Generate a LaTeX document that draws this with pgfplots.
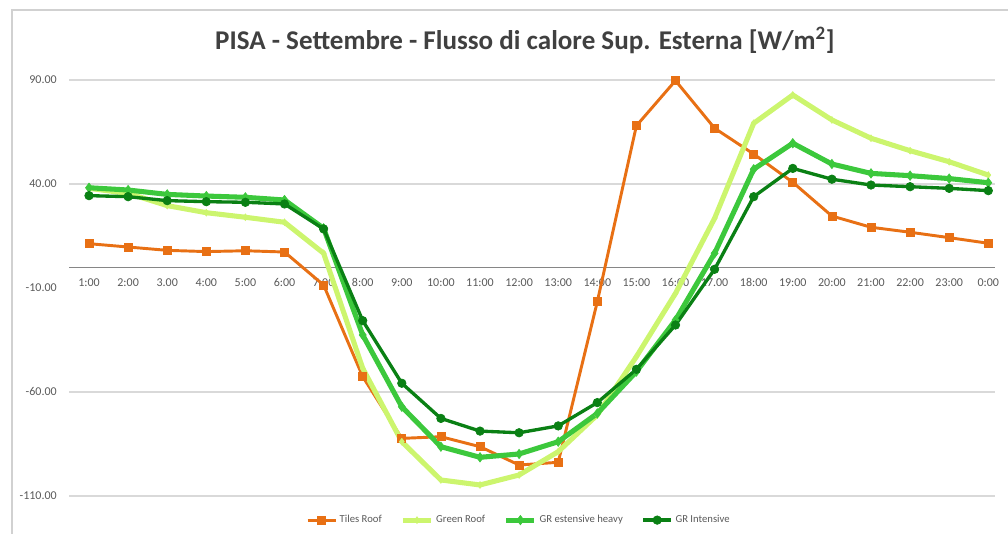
\documentclass[border=0pt]{standalone}
\usepackage{pgfplots}
\pgfplotsset{compat=1.18}
\usepackage{pgfplotstable}
\usepackage{fontspec}
\setmainfont{Carlito}
\definecolor{cTiles}{RGB}{232,112,20}
\definecolor{cGreen}{RGB}{204,245,110}
\definecolor{cHeavy}{RGB}{60,200,60}
\definecolor{cInt}{RGB}{10,128,20}
\definecolor{cText}{RGB}{89,89,89}
\definecolor{cTitle}{RGB}{64,64,64}
\definecolor{cGrid}{RGB}{217,217,217}
\definecolor{cAxis}{RGB}{134,134,134}

\pgfplotstableread{
x tiles green heavy intensive
1 11.3 37.9 38.2 34.4
2 9.7 35.5 37.1 33.9
3 8.1 29.6 35.0 32.0
4 7.5 26.2 34.2 31.5
5 7.9 24.0 33.6 31.2
6 7.3 21.6 32.3 30.4
7 -8.6 6.7 18.7 18.4
8 -52.6 -48.6 -32.6 -25.7
9 -82.3 -83.9 -67.1 -55.8
10 -81.5 -102.3 -86.3 -72.7
11 -86.3 -104.7 -91.4 -78.8
12 -95.1 -99.9 -89.8 -79.6
13 -93.8 -88.7 -83.9 -76.3
14 -16.6 -71.0 -70.3 -65.1
15 68.0 -43.0 -50.2 -49.1
16 89.7 -12.6 -25.4 -27.8
17 66.8 23.5 6.7 -1.0
18 54.4 69.2 47.1 33.9
19 40.8 82.8 59.6 47.5
20 24.6 70.8 49.6 42.3
21 19.2 62.0 45.1 39.5
22 16.8 56.0 44.0 38.7
23 14.2 50.7 42.6 37.9
24 11.5 44.3 40.6 36.8
}\datatable

\begin{document}
\begin{tikzpicture}
\useasboundingbox (0,0) rectangle (756pt,400.5pt);
\draw[color=black!18, line width=0.8pt] (9pt,0) -- (9pt,393pt) -- (756pt,393pt);
\node[font=\fontsize{20.3}{22}\selectfont\bfseries, text=cTitle] at (393.75pt,370.5pt) {PISA - Settembre - Flusso di calore Sup. Esterna [W/m\textsuperscript{2}]};
\begin{axis}[
  at={(52.1pt,28.5pt)}, anchor=south west,
  scale only axis, width=694.1pt, height=312pt,
  xmin=0.5, xmax=24.17, ymin=-110, ymax=90,
  axis x line*=middle,
  axis y line*=left,
  x axis line style={draw=cAxis, line width=0.8pt, -},
  y axis line style={draw=none},
  xtick={1,...,24},
  xticklabels={1:00,2:00,3.00,4:00,5:00,6:00,7:00,8:00,9:00,10:00,11:00,12:00,13:00,14:00,15:00,16:00,17.00,18:00,19:00,20:00,21:00,22:00,23:00,0:00},
  ytick={-110,-60,-10,40,90},
  yticklabels={-110.00,-60.00,-10.00,40.00,90.00},
  extra y ticks={-110,-60,40,90},
  extra y tick labels={},
  extra y tick style={grid=major, major grid style={draw=cGrid, line width=0.8pt}},
  major tick length=0pt,
  tick label style={font=\fontsize{9}{10}\selectfont, text=cText},
  xticklabel style={yshift=-5pt},
  yticklabel style={xshift=-6pt},
  clip=false,
  legend style={draw=none, fill=none, at={(0.486,-0.058)}, anchor=center,
    legend columns=4, font=\fontsize{8}{9}\selectfont, text=cText,
    /tikz/every even column/.append style={column sep=12pt}},
  legend cell align=left,
  legend image code/.code={
    \draw[#1] (0pt,0pt) -- (21pt,0pt);
    \draw[#1, only marks] plot coordinates {(10.5pt,0pt)};
  },
]
\addplot[color=cTiles, line width=2.2pt, mark=square*, mark size=3pt, mark options={solid, line width=0.5pt}] table[x=x, y=tiles] {\datatable};
\addlegendentry{Tiles Roof}
\addplot[color=cGreen, line width=3.8pt, mark=diamond*, mark size=2.5pt, mark options={solid, line width=0.5pt}] table[x=x, y=green] {\datatable};
\addlegendentry{Green Roof}
\addplot[color=cHeavy, line width=3.8pt, mark=diamond*, mark size=3.5pt, mark options={solid, line width=0.5pt}] table[x=x, y=heavy] {\datatable};
\addlegendentry{GR estensive heavy}
\addplot[color=cInt, line width=2.5pt, mark=*, mark size=3.2pt, mark options={solid, line width=0.5pt}] table[x=x, y=intensive] {\datatable};
\addlegendentry{GR Intensive}
\end{axis}
\end{tikzpicture}
\end{document}
